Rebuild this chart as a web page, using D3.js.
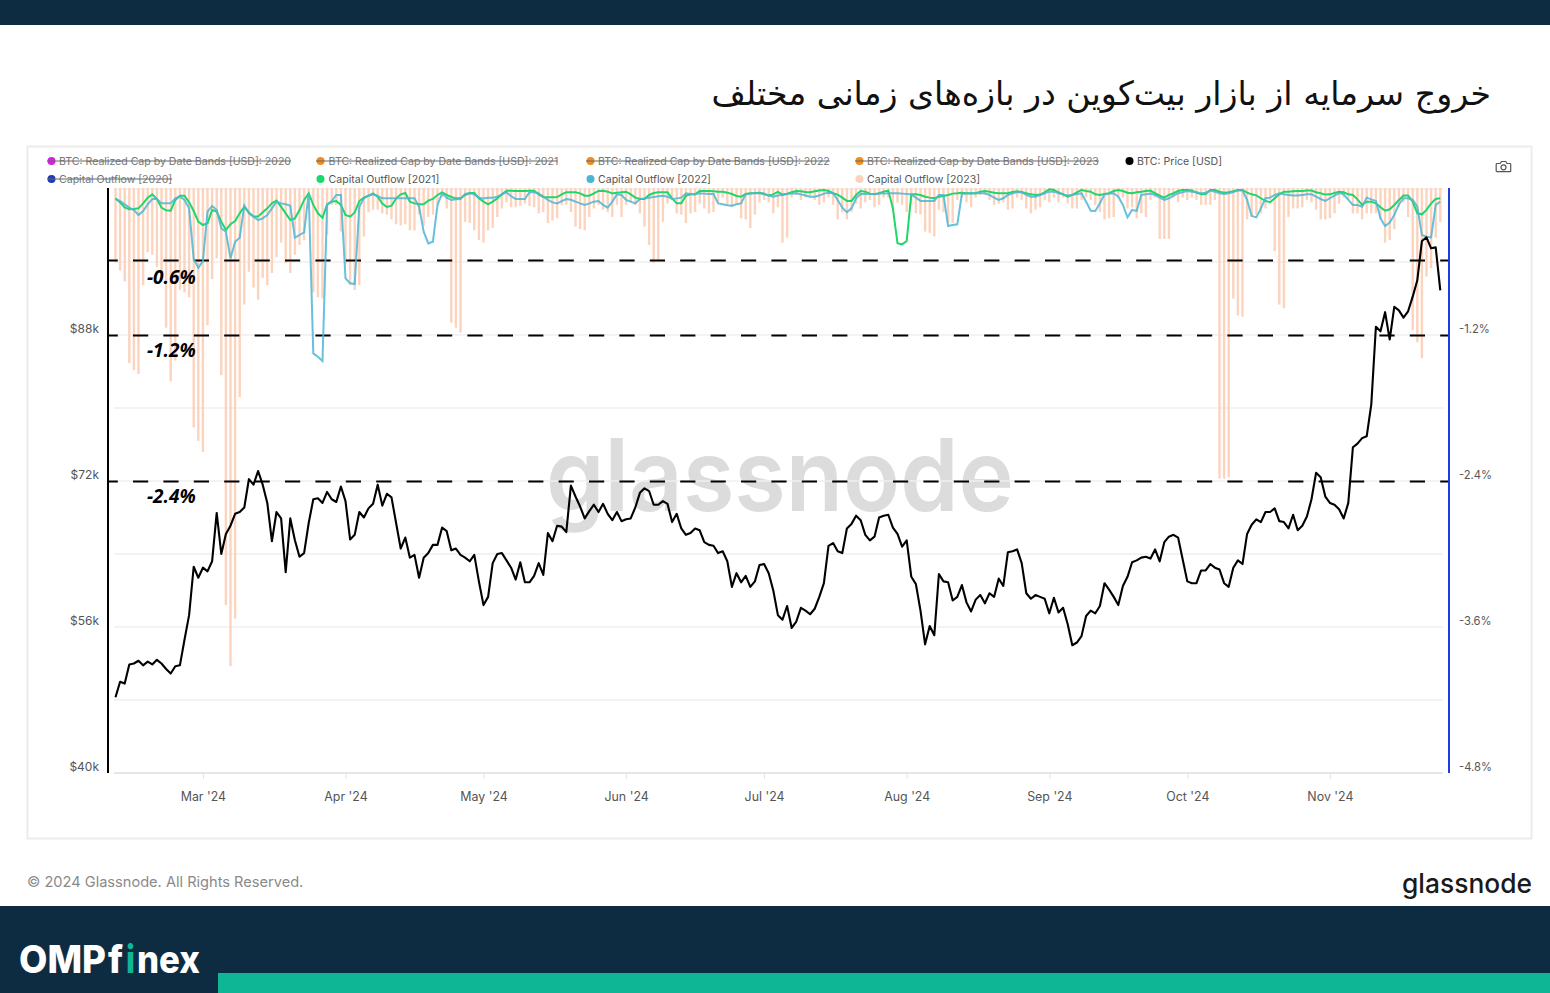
<!DOCTYPE html>
<html><head><meta charset="utf-8">
<script src="https://cdnjs.cloudflare.com/ajax/libs/d3/7.8.5/d3.min.js"></script>
<style>
html,body{margin:0;padding:0;background:#fff;overflow:hidden}
svg{display:block}
text{font-family:Inter,"Noto Sans",sans-serif}
</style></head><body>
<svg id="c" width="1550" height="993"></svg>
<script>
const titleText = "خروج سرمایه از بازار بیت‌کوین در بازه‌های زمانی مختلف";
const firstDay = "2024-02-11";
const lastDay = "2024-11-25";
const monthTicks = ["2024-03-01","2024-04-01","2024-05-01","2024-06-01","2024-07-01","2024-08-01","2024-09-01","2024-10-01","2024-11-01"];
const priceTicks = [40,56,72,88];
const priceGrid = [40,48,56,64,72,80,88,96,104];
const outflowTicks = [-4.8,-3.6,-2.4,-1.2];
const dashLevels = [-0.585,-1.2,-2.4];
const dashNotes = ["-0.6%","-1.2%","-2.4%"];
const legendNames = ["BTC: Realized Cap by Date Bands [USD]: 2020","BTC: Realized Cap by Date Bands [USD]: 2021","BTC: Realized Cap by Date Bands [USD]: 2022","BTC: Realized Cap by Date Bands [USD]: 2023","BTC: Price [USD]","Capital Outflow [2020]","Capital Outflow [2021]","Capital Outflow [2022]","Capital Outflow [2023]"];
const legendColors = ["#d61fe2","#f28c1e","#f28c1e","#f28c1e","#000","#1c3bb8","#1ad96c","#4db4d4","#fcd2bc"];
const legendStruck = [1,1,1,1,0,1,0,0,0];

// BTC price, $k, one value per day
const price = [
48.3,50.0,49.8,51.9,52.0,52.3,51.8,52.2,51.9,52.4,
52.0,51.4,50.9,51.7,51.8,54.6,57.3,62.6,61.4,62.5,
62.1,63.2,68.5,64.0,66.2,67.1,68.4,68.6,69.1,72.2,
71.6,73.1,71.6,69.6,65.4,68.6,67.9,62.0,67.9,65.5,
63.7,64.1,67.4,70.0,70.1,69.6,70.8,70.0,69.7,71.4,
69.8,65.6,66.1,68.6,68.0,69.0,69.5,71.6,69.3,70.6,
70.2,67.4,64.6,65.8,63.6,63.9,61.4,63.6,64.1,65.0,
65.0,66.9,66.5,64.4,64.6,63.9,63.6,63.2,63.9,61.0,
58.4,59.3,63.0,64.0,64.1,63.3,62.5,61.2,63.1,60.9,
60.9,61.6,63.0,61.7,66.3,65.4,67.1,67.0,66.4,71.5,
70.3,69.2,67.9,68.7,69.4,68.6,69.5,68.4,67.7,68.6,
67.6,67.8,67.9,69.1,70.7,71.2,70.9,69.4,69.4,69.8,
69.5,67.5,68.4,66.8,66.1,66.3,66.8,66.6,65.3,65.0,
64.9,64.1,64.3,63.2,60.4,61.9,60.9,61.6,60.4,61.0,
62.8,62.9,61.9,60.0,57.3,56.8,58.3,55.9,56.6,58.1,
57.8,57.4,58.0,59.3,60.8,64.9,65.2,64.3,64.1,66.8,
67.3,68.2,67.7,66.1,65.5,65.9,68.0,68.2,68.3,66.9,
66.2,64.8,65.5,61.5,60.7,57.8,54.1,56.1,55.1,61.8,
61.0,60.9,58.9,59.3,60.6,58.7,57.7,59.0,59.5,58.6,
59.7,59.3,61.3,60.5,64.2,64.3,64.5,63.0,59.7,59.1,
59.5,59.3,59.1,57.5,59.2,57.6,58.1,56.3,54.0,54.3,
55.0,57.2,57.8,57.5,58.3,60.8,60.1,59.3,58.4,60.5,
61.5,63.1,63.3,63.6,63.7,63.5,64.5,63.2,65.3,65.9,
66.1,65.8,63.4,61.0,60.8,60.8,62.2,62.2,62.9,62.5,
62.3,60.8,60.4,62.5,63.3,62.9,66.2,67.2,67.8,67.5,
68.6,68.6,69.0,67.6,67.5,66.8,68.3,66.6,67.1,68.1,
70.0,72.9,72.4,70.3,69.6,69.4,68.9,67.9,69.6,75.7,
76.1,76.7,76.9,80.4,88.9,88.4,90.5,87.5,91.1,90.7,
89.9,90.6,92.2,94.0,98.3,98.7,97.5,97.6,92.9];

// Capital outflow, percent below zero
const outflow2023 = [
.58,.67,.76,1.43,1.49,1.52,.79,.52,.54,.64,
.68,1.14,1.58,1.41,.83,.85,.89,1.96,2.07,2.16,
1.12,.74,.57,1.53,3.42,3.92,3.53,1.71,.95,.68,
.81,.91,.73,.79,.69,.56,.44,.61,.69,.54,
.46,.42,.09,.85,.89,.90,.38,.13,.13,.35,
.62,.79,.83,.79,.39,.19,.17,.17,.20,.21,
.25,.29,.30,.29,.34,.34,.21,.30,.23,.21,
.13,.07,.16,1.10,1.14,1.18,.27,.28,.34,.42,
.44,.34,.32,.23,.16,.11,.15,.15,.14,.12,
.14,.15,.20,.19,.28,.26,.24,.13,.13,.19,
.31,.33,.34,.23,.16,.13,.17,.19,.23,.13,
.23,.13,.11,.13,.20,.31,.46,.61,.58,.27,
.12,.07,.20,.21,.28,.20,.19,.12,.16,.20,
.19,.11,.07,.13,.15,.12,.24,.25,.32,.21,
.11,.09,.11,.20,.15,.44,.40,.07,.05,.09,
.07,.07,.09,.13,.11,.07,.13,.25,.19,.25,
.19,.12,.16,.11,.09,.15,.13,.07,.07,.19,
.11,.13,.19,.13,.20,.21,.35,.36,.39,.17,
.19,.28,.28,.09,.07,.11,.15,.07,.05,.05,
.09,.13,.12,.11,.17,.16,.07,.09,.16,.20,
.17,.15,.09,.11,.07,.11,.07,.12,.16,.16,
.09,.07,.09,.13,.19,.25,.24,.23,.07,.07,
.16,.15,.24,.20,.23,.09,.07,.41,.41,.41,
.07,.11,.07,.09,.07,.09,.13,.13,.13,.09,
2.38,2.38,2.37,.90,1.04,1.05,.25,.23,.21,.20,
.16,.09,.51,.95,.98,.23,.16,.16,.15,.09,
.11,.17,.25,.25,.24,.20,.12,.07,.09,.20,
.20,.25,.20,.20,.20,.25,.44,.42,.33,.15,
.11,.23,1.16,1.26,1.39,.72,.65,.40,.27];

const outflow2021 = [
.077,.11,.151,.167,.164,.159,.118,.071,.044,.082,
.153,.175,.178,.09,.055,.055,.11,.181,.268,.296,
.282,.173,.186,.268,.337,.29,.263,.2,.145,.192,
.227,.227,.192,.159,.118,.096,.145,.2,.255,.241,
.173,.09,.036,.131,.2,.236,.126,.104,.099,.131,
.214,.227,.192,.099,.071,.055,
.036,.063,.12,.148,.137,.077,.044,.033,.104,.118,
.126,.126,.096,.082,.049,.027,.049,.066,.077,.077,
.049,.033,.033,.077,.104,.126,.104,.077,.044,.014,
.014,.016,.016,.016,.014,.014,.044,.066,.068,.068,
.066,.044,.027,.027,.027,.036,.055,.055,.036,.016,
.014,.022,.036,.03,.027,.022,.044,.071,.082,.082,
.049,.033,.027,.027,.027,.077,.118,.118,.055,.044,
.044,
.016,.016,.016,.019,.022,.022,.03,.041,.057,.063,
.041,.035,.033,.03,.038,.054,.044,.024,.046,.038,
.027,.016,.019,.024,.027,.019,.013,.008,.016,.035,
.046,.071,.098,.098,.049,.016,.022,.038,.044,.035,
.022,.013,.159,.446,.455,.427,.044,.044,.049,.063,
.071,.076,.063,.057,.049,.038,.035,.03,.035,.035,
.035,.022,.016,.022,.03,.035,.035,.035,.024,.019,
.024,.035,.044,.049,
.046,.027,.002,.008,.027,.044,.063,.049,.027,.008,
.016,.022,.044,.049,.041,.035,.016,.008,.016,.03,
.035,.027,.022,.016,.013,.035,.054,.071,.049,.035,
.016,.008,.008,.013,.03,.044,.041,.008,.008,.022,
.03,.027,.019,.008,.008,.03,.044,.052,.076,.098,
.109,.076,.044,.022,.022,.019,.016,.016,.013,.013,
.027,.035,.046,.044,.033,.022,.027,.044,.049,.085,
.131,.104,.104,.118,.15,.178,.167,.131,.09,.054,
.054,.104,.2,.208,.172,.118,.082,.076];

const outflow2022 = [
.082,.099,.126,.153,.173,.214,.181,.126,.082,.082,
.118,.118,.118,.077,.063,.09,.159,.575,.647,.592,
.186,.14,.173,.323,.351,.57,.433,.4,.137,.2,
.227,.255,.241,.214,.159,.104,.118,.126,.137,.4,
.378,.356,.036,1.351,1.378,1.414,.131,.099,.049,.049,
.734,.775,.781,.145,.077,.055,
.044,.057,.077,.077,.077,.077,.077,.077,.077,.077,
.145,.351,.447,.433,.131,.036,.071,.09,.085,.082,
.041,.036,.044,.071,.077,.071,.071,.063,.044,.027,
.06,.082,.082,.082,.027,.027,.036,.063,.09,.11,
.118,.099,.082,.088,.104,.118,.131,.118,.104,.099,
.131,.153,.104,.044,.049,.09,.104,.118,.082,.077,
.071,.066,.06,.055,.063,.082,.077,.071,.036,.041,
.044,
.035,.038,.041,.041,.118,.126,.134,.137,.126,.118,
.041,.038,.035,.035,.044,.054,.063,.054,.049,.041,
.038,.035,.044,.054,.063,.063,.054,.038,.03,.035,
.09,.153,.191,.159,.076,.041,.041,.041,.041,.038,
.038,.035,.035,.035,.038,.041,.044,.071,.098,.098,
.098,.098,.049,.049,.304,.296,.29,.041,.038,.038,
.035,.035,.035,.049,.071,.09,.076,.049,.035,.024,
.027,.049,.063,.063,
.049,.035,.022,.022,.035,.044,.054,.049,.041,.035,
.104,.178,.18,.118,.044,.038,.035,.063,.131,.233,
.172,.18,.049,.044,.038,.049,.071,.09,.076,.054,
.035,.027,.016,.022,.027,.035,.03,.013,.022,.035,
.041,.035,.024,.013,.011,.09,.222,.233,.159,.076,
.071,.049,.035,.044,.049,.054,.054,.049,.044,.044,
.063,.082,.098,.076,.054,.033,.044,.09,.131,.131,
.145,.071,.085,.098,.241,.304,.276,.213,.126,.076,
.076,.09,.145,.378,.392,.397,.131,.104];

const navy = "#0e2c41", mint = "#0fb695";
const svg = d3.select("#c");
const days = d3.utcDay.range(new Date(firstDay), d3.utcDay.offset(new Date(lastDay), 1));
const x = d3.scaleUtc().domain([new Date(firstDay), new Date(lastDay)]).range([115.5, 1440.3]);
const yP = d3.scaleLinear().domain([40,104]).range([773,189]);
const yO = d3.scaleLinear().domain([-4.8,0]).range([773,189]);

// page frame
svg.append("rect").attr("width",1550).attr("height",25).attr("fill",navy);
svg.append("rect").attr("y",906).attr("width",1550).attr("height",87).attr("fill",navy);
svg.append("rect").attr("x",218).attr("y",973).attr("width",1332).attr("height",20).attr("fill",mint);
svg.append("rect").attr("x",27.5).attr("y",146.5).attr("width",1504).attr("height",692).attr("fill","#fff").attr("stroke","#ececec").attr("stroke-width",2);

svg.append("text").attr("x",1491).attr("y",105).attr("text-anchor","start").attr("direction","rtl")
  .style("font-family","'DejaVu Sans'").style("font-size","33.2px").attr("fill","#111").text(titleText);

// legend
const legendX = [47,316,586,855,1125], legendY = [161,179];
legendNames.forEach((n,i)=>{
  const col = i<5 ? i : i-5, row = i<5 ? 0 : 1;
  const g = svg.append("g").attr("transform",`translate(${legendX[col]},${legendY[row]})`);
  g.append("circle").attr("cx",4.5).attr("r",4).attr("fill",legendColors[i]);
  const t = g.append("text").attr("x",col===1?12.6:12).attr("y",3.8).style("font-size","10.55px").attr("fill",legendStruck[i]?"#777":"#555").text(n);
  if(legendStruck[i]){
    g.append("line").attr("x1",0).attr("x2",12+t.node().getComputedTextLength()).attr("stroke","#666").attr("stroke-width",1);
  }
});

// camera icon
const cam = svg.append("g").attr("transform","translate(1496,160)").attr("fill","none").attr("stroke","#555").attr("stroke-width",1.2);
cam.append("path").attr("d","M1 3.500h3.200l1.200-2h4.400l1.200 2h2.900c.4 0 .8.4.8.8v6.600c0 .4-.4.8-.8.8H1c-.4 0-.8-.4-.8-.8V4.300c0-.4.4-.8.8-.8z");
cam.append("circle").attr("cx",7.5).attr("cy",7.3).attr("r",2.5);

// watermark
svg.append("text").attr("x",546).attr("y",511).attr("textLength",468).attr("lengthAdjust","spacingAndGlyphs")
  .style("font-weight",600).style("font-size","100px").attr("fill","#dcdcdc").text("glassnode");

// grid
svg.append("g").selectAll("line").data(priceGrid).join("line")
  .attr("x1",114).attr("x2",1443).attr("y1",d=>yP(d)).attr("y2",d=>yP(d))
  .attr("stroke",d=>d===40?"#dedede":"#efefef").attr("stroke-width",d=>d===40?1.5:1.3);

// x axis
const xAxis = svg.append("g").attr("transform","translate(0,773)")
  .call(d3.axisBottom(x).tickValues(monthTicks.map(d=>new Date(d))).tickFormat(d3.utcFormat("%b '%y")).tickSize(6).tickPadding(13));
xAxis.select(".domain").remove();
xAxis.selectAll("line").attr("stroke","#e4e4e4");
xAxis.selectAll("text").style("font-size","12.4px").style("font-family","Inter").attr("fill","#555");

// outflow bars
svg.append("g").selectAll("rect").data(outflow2023).join("rect")
  .attr("x",(d,i)=>x(days[i])-1.2).attr("width",2.4)
  .attr("y",yO(0)-1).attr("height",d=>yO(-d)-yO(0)+1).attr("fill","#fcd3bd");

// dashed levels
svg.append("g").selectAll("line").data(dashLevels).join("line")
  .attr("x1",109).attr("x2",1449).attr("y1",d=>yO(d)+0.4).attr("y2",d=>yO(d)+0.4)
  .attr("stroke","#000").attr("stroke-width",2).attr("stroke-dasharray","15.2 15.2").attr("stroke-dashoffset",6.4);

// outflow lines
const lineO = d3.line().x((d,i)=>x(days[i])).y(d=>yO(-d));
svg.append("path").datum(outflow2021).attr("d",lineO).attr("fill","none").attr("stroke","#1fd66b").attr("stroke-width",2);
svg.append("path").datum(outflow2022).attr("d",lineO).attr("fill","none").attr("stroke","#4db5d6").attr("stroke-width",2).attr("opacity",.85);

// price line
svg.append("path").datum(price).attr("d",d3.line().x((d,i)=>x(days[i])).y(d=>yP(d)))
  .attr("fill","none").attr("stroke","#000").attr("stroke-width",2.1).attr("stroke-linejoin","round");

// axes
const leftAxis = svg.append("g").attr("transform","translate(108,0)")
  .call(d3.axisLeft(yP).tickValues(priceTicks).tickFormat(d=>`$${d}k`).tickSize(0).tickPadding(9));
leftAxis.select(".domain").attr("stroke","#000").attr("stroke-width",2).attr("d","M0,188V773");
leftAxis.selectAll("text").attr("y",-6.5).style("font-size","12px").style("font-family","Inter").attr("fill","#555");
const rightAxis = svg.append("g").attr("transform","translate(1449,0)")
  .call(d3.axisRight(yO).tickValues(outflowTicks).tickFormat(d=>`${d.toFixed(1)}%`).tickSize(0).tickPadding(10));
rightAxis.select(".domain").attr("stroke","#1a3fe0").attr("stroke-width",2).attr("d","M0,188V773");
rightAxis.selectAll("text").attr("y",-6.5).style("font-size","11.2px").style("font-family","Inter").attr("fill","#555");

// notes on the dashed levels
const noteGap = [24,22,22];
svg.append("g").selectAll("text").data(dashNotes).join("text")
  .attr("x",147).attr("y",(d,i)=>yO(dashLevels[i])+noteGap[i])
  .style("font-family","'Open Sans'").style("font-weight",700).style("font-style","italic").style("font-size","19px").attr("fill","#000").text(d=>d);

// footer
svg.append("text").attr("x",27).attr("y",887).style("font-size","14.6px").attr("fill","#8a8a8a").text("© 2024 Glassnode. All Rights Reserved.");
svg.append("text").attr("x",1402).attr("y",893).attr("textLength",130).attr("lengthAdjust","spacingAndGlyphs")
  .style("font-weight",500).style("font-size","27px").attr("fill","#1a1a1a").text("glassnode");
const logoText = (t,xp,c,len)=>{
  const e = svg.append("text").attr("x",xp).attr("y",972.5).style("font-weight",800).style("font-size","38px").attr("fill",c).text(t);
  if(len) e.attr("textLength",len).attr("lengthAdjust","spacingAndGlyphs");
};
logoText("OMP",19,"#fff",87);
logoText("f",108,"#fff",15);
logoText("i",126,mint,9);
logoText("nex",137,"#fff",63);
</script>
</body></html>
